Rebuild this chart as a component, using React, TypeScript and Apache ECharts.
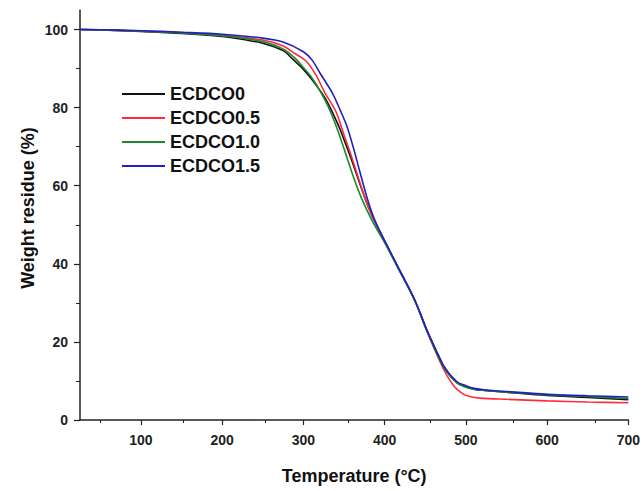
import React, { useEffect, useRef } from "react";
import * as echarts from "echarts";

const seriesNames = ["ECDCO0", "ECDCO0.5", "ECDCO1.0", "ECDCO1.5"];
const seriesColors = ["#111111", "#ff2a3c", "#1c8a2c", "#2020c0"];

const tempECDCO0 = [25, 50, 100, 150, 200, 230, 250, 275, 287, 300, 310, 323, 330, 343, 350, 360, 370, 378, 386, 396, 416, 437, 453, 463, 473, 480, 489, 500, 510, 520, 550, 600, 650, 700];
const wtECDCO0 = [100, 99.9, 99.5, 99.0, 98.2, 97.3, 96.5, 94.6, 92.4, 89.8, 87.3, 83.6, 81.2, 75.5, 71.8, 66.2, 60.2, 55.6, 51.6, 47.4, 39.3, 30.7, 22.5, 18, 13.6, 11.5, 9.6, 8.5, 7.9, 7.6, 7.1, 6.3, 5.8, 5.2];

const tempECDCO05 = [25, 50, 100, 150, 200, 250, 275, 290, 303, 315, 327, 340, 350, 360, 370, 380, 396, 416, 437, 453, 473, 485, 495, 505, 518, 550, 600, 650, 700];
const wtECDCO05 = [100, 99.9, 99.6, 99.2, 98.5, 97.3, 95.8, 93.8, 92.0, 88.5, 83.6, 79, 73, 67, 60.5, 54.5, 47.5, 39.3, 30.7, 22.3, 12.8, 8.8, 6.9, 6.0, 5.6, 5.3, 4.9, 4.6, 4.4];

const tempECDCO10 = [25, 50, 100, 150, 200, 250, 275, 290, 300, 310, 320, 330, 340, 350, 360, 370, 380, 390, 400, 416, 437, 453, 473, 489, 500, 510, 520, 550, 600, 650, 700];
const wtECDCO10 = [100, 99.9, 99.6, 99.1, 98.4, 96.9, 95.0, 92.6, 90.3, 87.8, 84.5, 80.5, 75.5, 69.5, 63.2, 57.6, 53, 49, 45.4, 39.1, 30.6, 22.3, 13.4, 9.5, 8.4, 7.9, 7.6, 7.1, 6.5, 6.0, 5.5];

const tempECDCO15 = [25, 50, 100, 150, 200, 250, 275, 300, 311, 320, 336, 345, 354, 362, 370, 378, 386, 396, 416, 437, 453, 473, 489, 500, 510, 520, 550, 600, 650, 700];
const wtECDCO15 = [100, 99.95, 99.7, 99.3, 98.8, 97.8, 96.8, 94.3, 92.1, 89, 83.6, 79.5, 75, 69.4, 63.2, 57.2, 52.2, 47.6, 39.4, 30.8, 22.6, 13.8, 9.8, 8.8, 8.1, 7.8, 7.3, 6.6, 6.2, 5.9];

const xMajorTicks = [100, 200, 300, 400, 500, 600, 700];
const xMinorTicks = [50, 150, 250, 350, 450, 550, 650];
const yMajorTicks = [0, 20, 40, 60, 80, 100];
const yMinorTicks = [10, 30, 50, 70, 90];

const xAxisTitle = "Temperature (°C)";
const yAxisTitle = "Weight residue (%)";

const allTemps = [tempECDCO0, tempECDCO05, tempECDCO10, tempECDCO15];
const allWts = [wtECDCO0, wtECDCO05, wtECDCO10, wtECDCO15];

export default function App() {
  const ref = useRef<HTMLDivElement>(null);
  useEffect(() => {
    if (!ref.current) return;
    const chart = echarts.init(ref.current, null, { renderer: "svg" });
    const font = "'Liberation Sans', Arial, sans-serif";
    const axisColor = "#222";
    const gridPos = { left: 80, right: 6, top: 10, bottom: 71 };
    const xRange = { min: 25, max: 700 };
    const yRange = { min: 0, max: 105 };
    chart.setOption({
      animation: false,
      backgroundColor: "#ffffff",
      grid: [
        { ...gridPos, containLabel: false },
        { ...gridPos, containLabel: false },
      ],
      legend: {
        orient: "vertical",
        left: 122,
        top: 85,
        padding: 0,
        icon: "rect",
        itemWidth: 43,
        itemHeight: 2,
        itemGap: 6,
        data: seriesNames,
        textStyle: { fontFamily: font, fontWeight: "bold", fontSize: 18, lineHeight: 18, color: "#111" },
      },
      graphic: [
        {
          type: "text",
          x: 28,
          y: 208,
          rotation: Math.PI / 2,
          style: {
            text: yAxisTitle,
            fontFamily: font,
            fontWeight: "bold",
            fontSize: 18,
            fill: "#111",
            align: "center",
            verticalAlign: "middle",
          },
        },
      ],
      xAxis: [
        {
          type: "value",
          gridIndex: 0,
          ...xRange,
          name: xAxisTitle,
          nameLocation: "middle",
          nameGap: 47,
          nameTextStyle: { fontFamily: font, fontWeight: "bold", fontSize: 18, color: "#111" },
          splitLine: { show: false },
          axisLine: { show: true, lineStyle: { color: axisColor, width: 1.5 } },
          axisTick: { show: true, inside: false, length: 5, customValues: xMajorTicks, lineStyle: { color: axisColor, width: 1.2 } },
          axisLabel: { customValues: xMajorTicks, margin: 13, fontFamily: font, fontWeight: "bold", fontSize: 14, color: "#222", alignMaxLabel: "center" },
        },
        {
          type: "value",
          gridIndex: 1,
          position: "bottom",
          ...xRange,
          splitLine: { show: false },
          axisLine: { show: false },
          axisTick: { show: true, inside: false, length: 3, customValues: xMinorTicks, lineStyle: { color: axisColor, width: 1 } },
          axisLabel: { show: false },
        },
      ],
      yAxis: [
        {
          type: "value",
          gridIndex: 0,
          ...yRange,
          splitLine: { show: false },
          axisLine: { show: true, lineStyle: { color: axisColor, width: 1.5 } },
          axisTick: { show: true, inside: false, length: 6, customValues: yMajorTicks, lineStyle: { color: axisColor, width: 1.2 } },
          axisLabel: { customValues: yMajorTicks, margin: 12, fontFamily: font, fontWeight: "bold", fontSize: 14, color: "#222" },
        },
        {
          type: "value",
          gridIndex: 1,
          position: "left",
          ...yRange,
          splitLine: { show: false },
          axisLine: { show: false },
          axisTick: { show: true, inside: false, length: 4, customValues: yMinorTicks, lineStyle: { color: axisColor, width: 1 } },
          axisLabel: { show: false },
        },
      ],
      series: seriesNames.map((name, i) => ({
        name,
        type: "line",
        xAxisIndex: 0,
        yAxisIndex: 0,
        smooth: 0.3,
        symbol: "none",
        color: seriesColors[i],
        lineStyle: { width: 1.6, color: seriesColors[i] },
        data: allTemps[i].map((t, j) => [t, allWts[i][j]]),
      })),
    });
    return () => chart.dispose();
  }, []);
  return (
    <div
      ref={ref}
      style={{ position: "fixed", left: 0, top: 0, width: 643, height: 491, background: "#fff" }}
    />
  );
}
